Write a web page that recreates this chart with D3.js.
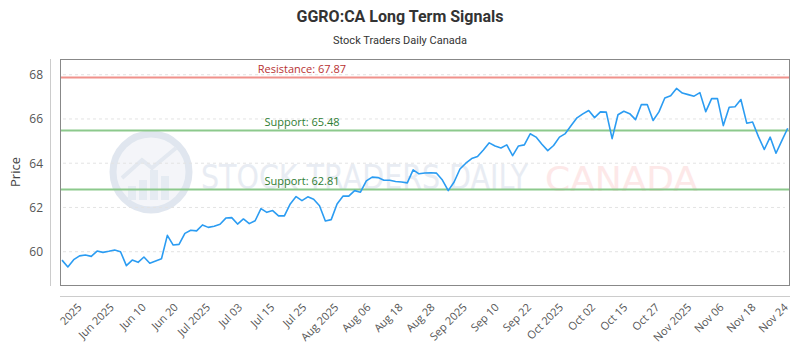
<!DOCTYPE html>
<html><head><meta charset="utf-8">
<script src="https://cdn.jsdelivr.net/npm/d3@7"></script>
<style>
html,body{margin:0;padding:0;background:#fff;}
svg{display:block;}
</style></head>
<body><svg id="c" width="800" height="350"></svg>
<script>
const prices = [59.62,59.31,59.64,59.81,59.85,59.79,60.03,59.97,60.02,60.08,
60.00,59.37,59.62,59.52,59.76,59.48,59.58,59.68,60.74,60.30,
60.33,60.83,60.97,60.94,61.21,61.10,61.15,61.24,61.52,61.54,
61.25,61.48,61.27,61.40,61.95,61.78,61.86,61.62,61.62,62.16,
62.49,62.31,62.48,62.37,62.08,61.39,61.45,62.16,62.51,62.51,
62.76,62.69,63.20,63.37,63.35,63.23,63.23,63.17,63.15,63.11,
63.70,63.52,63.56,63.57,63.55,63.24,62.76,63.15,63.74,64.00,
64.21,64.30,64.60,64.92,64.78,64.69,64.83,64.34,64.78,64.83,
65.33,65.18,64.86,64.57,64.80,65.18,65.34,65.70,66.05,66.23,
66.38,66.06,66.32,66.31,65.11,66.19,66.35,66.24,65.97,66.65,
66.65,65.93,66.32,66.95,67.05,67.38,67.17,67.10,67.03,67.19,
66.33,66.92,66.92,65.70,66.53,66.55,66.88,65.81,65.86,65.20,
64.62,65.18,64.45,65.02,65.58];
const xTickLabels = ["2025","Jun 2025","Jun 10","Jun 20","Jul 2025","Jul 03","Jul 15","Jul 25","Aug 2025","Aug 06","Aug 18","Aug 28","Sep 2025","Sep 10","Sep 22","Oct 2025","Oct 02","Oct 15","Oct 27","Nov 2025","Nov 06","Nov 18","Nov 24"];
const yTicks = [60,62,64,66,68];
const levelNames = ["Resistance","Support","Support"];
const levelValues = [67.87,65.48,62.81];
const levelKinds = ["res","sup","sup"];

const svg = d3.select("#c");
const W = 800, H = 350;
const plot = {l:60, t:59, r:790, b:286};

const x = d3.scaleLinear().domain([0, prices.length-1]).range([62, 787.7]);
const y = d3.scaleLinear().domain([58.45, 68.71]).range([plot.b, plot.t]);

// title
svg.append("text").attr("x",400).attr("y",22).attr("text-anchor","middle")
  .style("font-family","Roboto, 'Open Sans', sans-serif").style("font-weight","bold")
  .style("font-size","16px").attr("fill","#333").text("GGRO:CA Long Term Signals");
svg.append("text").attr("x",400).attr("y",44).attr("text-anchor","middle")
  .style("font-family","Roboto, 'Open Sans', sans-serif")
  .style("font-size","11px").attr("fill","#333").text("Stock Traders Daily Canada");

// watermark
const wm = svg.append("g").attr("opacity",0.9);
wm.append("circle").attr("cx",151).attr("cy",172).attr("r",38)
  .attr("fill","#f3f5f9").attr("stroke","#dde4ee").attr("stroke-width",7);
[[128,186,8,14],[139,180,8,20],[150,170,8,30],[161,176,8,24]].forEach(b=>{
  wm.append("rect").attr("x",b[0]).attr("y",b[1]).attr("width",b[2]).attr("height",b[3]).attr("fill","#e3e9f1");
});
wm.append("polyline").attr("points","122,178 142,160 152,168 176,148").attr("fill","none")
  .attr("stroke","#e0e6ef").attr("stroke-width",4);
wm.append("text").attr("x",201).attr("y",189)
  .attr("textLength",327).attr("lengthAdjust","spacingAndGlyphs")
  .style("font-family","'DejaVu Sans', sans-serif").style("font-size","34px")
  .attr("fill","#e6ebf2").text("STOCK TRADERS DAILY");
wm.append("text").attr("x",545).attr("y",191)
  .attr("textLength",153).attr("lengthAdjust","spacingAndGlyphs")
  .style("font-family","'DejaVu Sans', sans-serif").style("font-size","34px")
  .attr("fill","#fde6e6").text("CANADA");

// gridlines
svg.append("g").selectAll("line").data(yTicks).join("line")
  .attr("x1",63).attr("x2",785).attr("y1",d=>y(d)).attr("y2",d=>y(d))
  .attr("stroke","#e3e3e3").attr("stroke-width",1).attr("stroke-dasharray","3,3");

// frame
svg.append("rect").attr("x",plot.l+0.5).attr("y",plot.t+0.5)
  .attr("width",plot.r-plot.l-1).attr("height",plot.b-plot.t-1)
  .attr("fill","none").attr("stroke","#888").attr("stroke-width",1);

// y axis
const yAxis = d3.axisLeft(y).tickValues(yTicks).tickSize(0).tickPadding(7).tickFormat(d3.format("d"));
const gy = svg.append("g").attr("transform","translate(50,0)").call(yAxis);
gy.select(".domain").attr("stroke","#ccc").attr("d",`M0.5,${plot.t}V${plot.b}`);
gy.selectAll("text").style("font-family","'Open Sans', sans-serif").style("font-size","12px").attr("fill","#555");
svg.append("text").attr("transform","translate(20,172) rotate(-90)").attr("text-anchor","middle")
  .style("font-family","'Open Sans', sans-serif").style("font-size","13px").attr("fill","#444").text("Price");

// x axis (evenly spaced tick labels)
const xt = d3.scalePoint().domain(xTickLabels).range([x(3.25), x(123.9)]);
const xAxis = d3.axisBottom(xt).tickSize(0);
const gx = svg.append("g").attr("transform","translate(0,296)").call(xAxis);
gx.select(".domain").attr("stroke","#ccc").attr("d",`M${plot.l},0.5H${plot.r}`);
gx.selectAll("text").attr("x",0).attr("y",0).attr("dy",0)
  .attr("transform","translate(1,12) rotate(-45)").attr("text-anchor","end")
  .style("font-family","'Open Sans', sans-serif").style("font-size","11px").attr("fill","#555");

// level lines
const lvl = svg.append("g");
levelValues.forEach((v,i)=>{
  const isRes = levelKinds[i]==="res";
  lvl.append("line").attr("x1",plot.l+1).attr("x2",plot.r-1).attr("y1",y(v)).attr("y2",y(v))
    .attr("stroke", isRes ? "#f0928c" : "#8cc98c").attr("stroke-width",2);
  lvl.append("text").attr("x",x(41)).attr("y",y(v)-4.5).attr("text-anchor","middle")
    .style("font-family","'Open Sans', sans-serif").style("font-size","11px")
    .attr("fill", isRes ? "#b83232" : "#2e7d32")
    .text(`${levelNames[i]}: ${v.toFixed(2)}`);
});

// price line
svg.append("path").datum(prices)
  .attr("d", d3.line().x((d,i)=>x(i)).y(d=>y(d)))
  .attr("fill","none").attr("stroke","#2b9cf2").attr("stroke-width",1.6).attr("stroke-linejoin","round");
</script></body></html>
